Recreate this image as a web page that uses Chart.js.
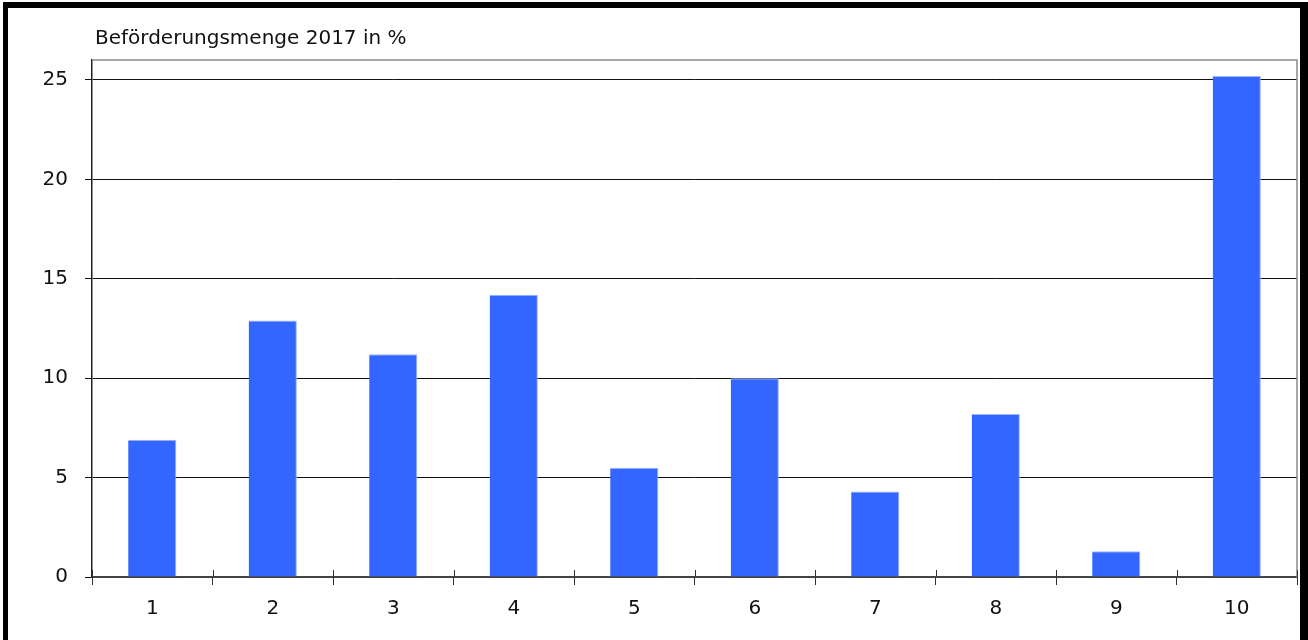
<!DOCTYPE html>
<html lang="de">
<head>
<meta charset="utf-8">
<title>Beförderungsmenge 2017</title>
<script src="https://cdn.jsdelivr.net/npm/chart.js@4/dist/chart.umd.min.js"></script>
<style>
  html, body { margin: 0; padding: 0; background: #fff; }
  #wrap { position: relative; width: 1308px; height: 640px; overflow: hidden; }
  #c { position: absolute; left: 0; top: 0; }
  #frame {
    position: absolute; left: 3px; top: 2px; right: 0; bottom: -20px;
    border-top: 6px solid #000; border-left: 5px solid #000; border-right: 8px solid #000;
    pointer-events: none;
  }
</style>
</head>
<body>
<div id="wrap">
  <canvas id="c" width="1308" height="640"></canvas>
  <div id="frame"></div>
</div>
<script>
// Kategorien und Werte
const categories = ['1', '2', '3', '4', '5', '6', '7', '8', '9', '10'];
const shares = [6.9, 12.9, 11.2, 14.2, 5.5, 10.0, 4.3, 8.2, 1.3, 25.2];
const yTicks = [0, 5, 10, 15, 20, 25];
const axisTitle = 'Beförderungsmenge 2017 in %';

const FONT = "'DejaVu Sans', 'Noto Sans', sans-serif";

// Rahmen oben/rechts, Achsentitel, Teilstriche über der x-Achse
const decor = {
  id: 'decor',
  afterDraw(chart) {
    const { ctx, chartArea: a, scales } = chart;
    ctx.save();
    ctx.strokeStyle = '#8a8a8a';
    ctx.lineWidth = 1.5;
    ctx.beginPath();
    ctx.moveTo(a.left, a.top);
    ctx.lineTo(a.right, a.top);
    ctx.lineTo(a.right, a.bottom);
    ctx.stroke();

    // kurze Teilstriche an den Kategoriegrenzen oberhalb der Achse
    const x = scales.x;
    ctx.strokeStyle = '#333';
    ctx.lineWidth = 1;
    ctx.beginPath();
    for (let i = 0; i <= categories.length; i++) {
      const px = Math.round(x.getPixelForValue(i - 0.5)) + 0.5;
      ctx.moveTo(px, a.bottom);
      ctx.lineTo(px, a.bottom - 7);
    }
    ctx.stroke();

    ctx.fillStyle = '#111';
    ctx.font = '20px ' + FONT;
    ctx.textBaseline = 'alphabetic';
    ctx.textAlign = 'left';
    ctx.fillText(axisTitle, a.left + 3, 44);
    ctx.restore();
  }
};

new Chart(document.getElementById('c'), {
  type: 'bar',
  data: {
    labels: categories,
    datasets: [{
      data: shares,
      backgroundColor: '#3366FF',
      borderColor: '#9FB6FF',
      borderWidth: { top: 1, right: 1, left: 0, bottom: 0 },
      borderSkipped: false,
      categoryPercentage: 1.0,
      barPercentage: 0.4
    }]
  },
  options: {
    responsive: false,
    animation: false,
    devicePixelRatio: 1,
    layout: { padding: { left: 0, top: 60, right: 11, bottom: 0 } },
    plugins: { legend: { display: false }, title: { display: false }, tooltip: { enabled: false } },
    scales: {
      x: {
        grid: {
          display: true,
          offset: true,
          drawOnChartArea: false,
          drawTicks: true,
          tickLength: 8,
          color: '#333',
          lineWidth: 1
        },
        border: { display: true, color: '#444', width: 2 },
        ticks: {
          color: '#111',
          padding: 12,
          font: { family: FONT, size: 20 }
        },
        afterFit(scale) { scale.height = 63; }
      },
      y: {
        min: 0,
        max: 26,
        afterBuildTicks(scale) {
          scale.ticks = yTicks.map(v => ({ value: v }));
        },
        grid: {
          color: '#111',
          lineWidth: 1,
          drawTicks: true,
          tickLength: 7
        },
        border: { display: true, color: '#222', width: 1.5 },
        ticks: {
          color: '#111',
          padding: 17,
          font: { family: FONT, size: 20 }
        },
        afterFit(scale) { scale.width = 92; }
      }
    }
  },
  plugins: [decor]
});
</script>
</body>
</html>
